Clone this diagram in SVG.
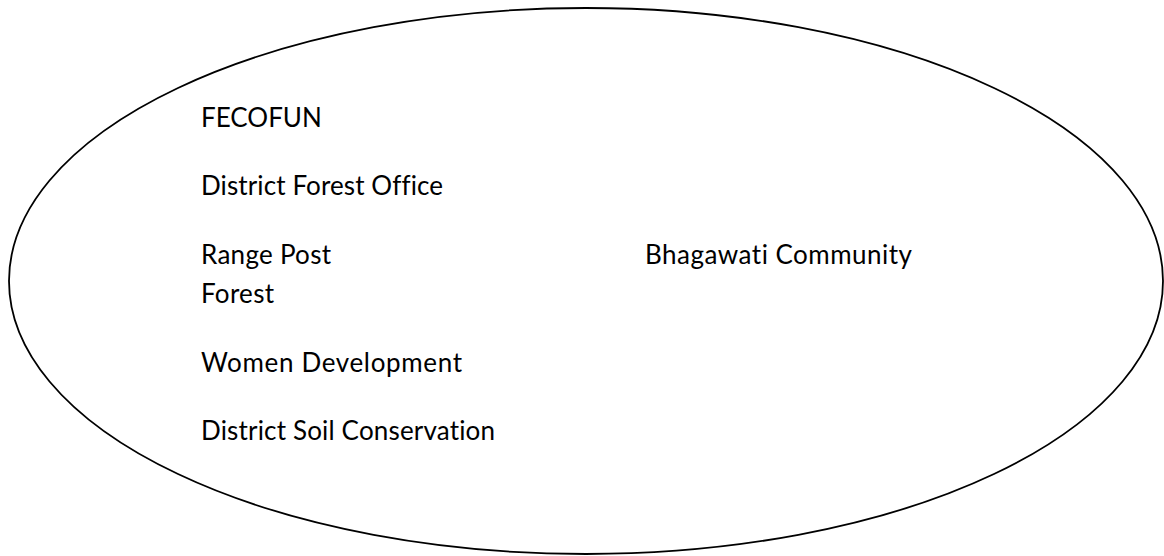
<svg xmlns="http://www.w3.org/2000/svg" width="1164" height="556" viewBox="0 0 1164 556">
  <style>
    .lbl { font-family: "Lato", "Liberation Sans", sans-serif; font-size: 26px; fill: #000; font-variant-ligatures: none; }
    .outline { fill: none; stroke: #000; stroke-width: 1.8; }
  </style>
  <rect width="1164" height="556" fill="#fff"/>
  <g id="boundary">
    <ellipse class="outline" cx="586" cy="281" rx="577" ry="273"/>
  </g>
  <g id="connectors"/>
  <g id="fecofun"><text class="lbl" x="201" y="127">FECOFUN</text></g>
  <g id="district-forest-office"><text class="lbl" x="201" y="195" textLength="242" lengthAdjust="spacing">District Forest Office</text></g>
  <g id="range-post-forest">
    <text class="lbl" x="201" y="264" textLength="130" lengthAdjust="spacing">Range Post</text>
    <text class="lbl" x="201" y="303" textLength="73" lengthAdjust="spacing">Forest</text>
  </g>
  <g id="women-development"><text class="lbl" x="201" y="372" textLength="261" lengthAdjust="spacing">Women Development</text></g>
  <g id="district-soil-conservation"><text class="lbl" x="201" y="440" textLength="294" lengthAdjust="spacing">District Soil Conservation</text></g>
  <g id="bhagawati-community"><text class="lbl" x="645" y="264" textLength="267" lengthAdjust="spacing">Bhagawati Community</text></g>
</svg>
